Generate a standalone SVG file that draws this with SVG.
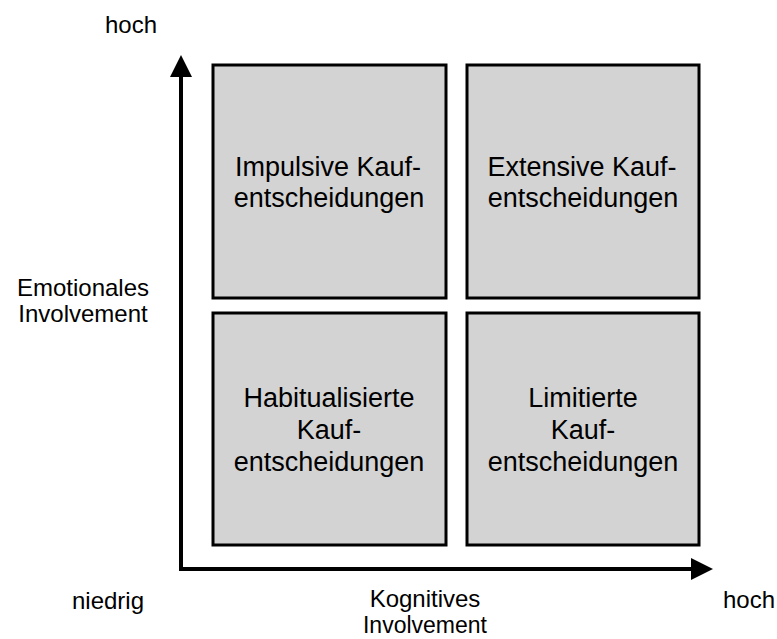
<svg xmlns="http://www.w3.org/2000/svg" width="777" height="639" viewBox="0 0 777 639">
  <style>
    .box { fill: #d3d3d3; stroke: #000; stroke-width: 3; }
    .t { font-family: "Liberation Sans", Arial, sans-serif; fill: #000; text-anchor: middle; }
    .bt { font-size: 27px; }
    .at { font-size: 24px; }
    .st { font-size: 23px; }
    .axis { fill: none; stroke: #000; stroke-width: 4; }
  </style>
  <defs>
    <marker id="arrow" markerUnits="userSpaceOnUse" markerWidth="22" markerHeight="22" refX="0" refY="11" orient="auto-start-reverse" viewBox="0 0 22 22">
      <path d="M0,0 L22,11 L0,22 z" fill="#000"/>
    </marker>
  </defs>
  <rect width="777" height="639" fill="#fff"/>
  <g id="connectors">
    <path class="axis" d="M181,77 L181,569 L691,569" marker-start="url(#arrow)" marker-end="url(#arrow)"/>
  </g>
  <g id="box-impulsive">
    <rect class="box" x="213" y="65" width="233" height="233"/>
    <text class="t bt" x="328" y="176">Impulsive Kauf-</text>
    <text class="t bt" x="329" y="207">entscheidungen</text>
  </g>
  <g id="box-extensive">
    <rect class="box" x="467" y="65" width="232" height="233"/>
    <text class="t bt" x="582" y="176">Extensive Kauf-</text>
    <text class="t bt" x="583" y="207">entscheidungen</text>
  </g>
  <g id="box-habitualisierte">
    <rect class="box" x="213" y="313" width="233" height="232"/>
    <text class="t bt" x="329" y="407">Habitualisierte</text>
    <text class="t bt" x="329" y="439">Kauf-</text>
    <text class="t bt" x="329" y="471">entscheidungen</text>
  </g>
  <g id="box-limitierte">
    <rect class="box" x="467" y="313" width="232" height="232"/>
    <text class="t bt" x="583" y="407">Limitierte</text>
    <text class="t bt" x="583" y="439">Kauf-</text>
    <text class="t bt" x="583" y="471">entscheidungen</text>
  </g>
  <g id="labels">
    <text class="t at" x="131" y="33">hoch</text>
    <text class="t at" x="83" y="296">Emotionales</text>
    <text class="t at" x="83" y="322">Involvement</text>
    <text class="t at" x="108" y="609">niedrig</text>
    <text class="t at" x="425" y="607">Kognitives</text>
    <text class="t st" x="425" y="633">Involvement</text>
    <text class="t at" x="749" y="608">hoch</text>
  </g>
</svg>
